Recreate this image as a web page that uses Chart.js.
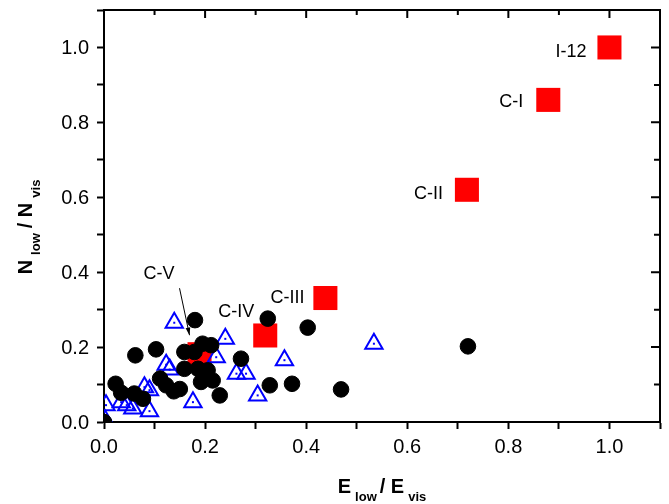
<!DOCTYPE html>
<html>
<head>
<meta charset="utf-8">
<script src="https://cdn.jsdelivr.net/npm/chart.js@4.4.0/dist/chart.umd.min.js"></script>
<style>
    html, body { margin: 0; padding: 0; background: #fff; }
</style>
</head>
<body>
<canvas id="chart" width="669" height="504"></canvas>
<script>
// data (x = E_low / E_vis, y = N_low / N_vis)
const circlePoints = [
    [0.000, 0.000], [0.023, 0.102], [0.034, 0.078], [0.060, 0.076], [0.062, 0.178],
    [0.077, 0.062], [0.103, 0.194], [0.111, 0.116], [0.123, 0.098], [0.138, 0.082],
    [0.150, 0.088], [0.159, 0.187], [0.159, 0.142], [0.180, 0.272], [0.179, 0.187],
    [0.186, 0.142], [0.192, 0.107], [0.195, 0.209], [0.205, 0.138], [0.212, 0.205],
    [0.215, 0.111], [0.229, 0.071], [0.271, 0.169], [0.324, 0.276], [0.328, 0.098],
    [0.372, 0.102], [0.403, 0.252], [0.469, 0.087], [0.720, 0.202]
];
const trianglePoints = [
    [0.002, 0.005], [0.004, 0.045], [0.034, 0.053], [0.045, 0.045], [0.057, 0.036],
    [0.080, 0.093], [0.090, 0.085], [0.090, 0.029], [0.123, 0.153], [0.130, 0.140],
    [0.139, 0.265], [0.176, 0.053], [0.222, 0.173], [0.240, 0.222], [0.262, 0.129],
    [0.281, 0.129], [0.304, 0.071], [0.357, 0.165], [0.534, 0.209]
];
const squarePoints = [
    [1.000, 1.000], [0.879, 0.860], [0.718, 0.620], [0.438, 0.331], [0.319, 0.231], [0.189, 0.181]
];
const squareLabels = ['I-12', 'C-I', 'C-II', 'C-III', 'C-IV', 'C-V'];
const tickLabels = ['0.0', '0.2', '0.4', '0.6', '0.8', '1.0'];

const toXY = arr => arr.map(p => ({ x: p[0], y: p[1] }));

// label placement next to each square (px): right edge dx, baseline dy
const labelOffsets = [[-23, 10], [-25, 7], [-24, 9], [-21, 5], [-11, -18], [-25, -75]];
const FONT = 'Arial, "Liberation Sans", Helvetica, sans-serif';

function majorLabel(v) {
    const i = Math.round(v * 10);
    if (i % 2 !== 0 || i / 2 >= tickLabels.length) return '';
    return tickLabels[i / 2];
}

// draws "Main sub Main sub" pieces along the current x direction, centred at 0
function drawSubTitle(ctx, parts) {
    const big = 'bold 20px ' + FONT, small = 'bold 13px ' + FONT;
    let total = 0;
    parts.forEach(p => {
        ctx.font = p.sub ? small : big;
        total += ctx.measureText(p.t).width + p.gap;
    });
    let x = -total / 2;
    parts.forEach(p => {
        ctx.font = p.sub ? small : big;
        ctx.fillText(p.t, x, p.sub ? 8 : 0);
        x += ctx.measureText(p.t).width + p.gap;
    });
}

const extras = {
    id: 'extras',
    afterDatasetDraw(chart, args) {
        if (args.index !== 1) return;
        // centre dot of the open triangles
        const ctx = chart.ctx;
        ctx.save();
        ctx.fillStyle = '#0000ff';
        args.meta.data.forEach(el => ctx.fillRect(el.x - 1, el.y - 1, 2, 2));
        ctx.restore();
    },
    afterDraw(chart) {
        const { ctx, chartArea: a, scales: { x, y } } = chart;
        ctx.save();
        // top and right frame with inward ticks
        ctx.strokeStyle = '#000';
        ctx.lineWidth = 2;
        ctx.beginPath();
        ctx.moveTo(a.left, a.top);
        ctx.lineTo(a.right, a.top);
        ctx.lineTo(a.right, a.bottom);
        x.ticks.forEach(t => {
            const px = x.getPixelForValue(t.value);
            ctx.moveTo(px, a.top);
            ctx.lineTo(px, a.top + (majorLabel(t.value) ? 8 : 5));
        });
        y.ticks.forEach(t => {
            const py = y.getPixelForValue(t.value);
            ctx.moveTo(a.right, py);
            ctx.lineTo(a.right - (majorLabel(t.value) ? 9 : 6), py);
        });
        ctx.stroke();

        // tick labels
        ctx.fillStyle = '#000';
        ctx.font = '20px ' + FONT;
        ctx.textAlign = 'center';
        ctx.textBaseline = 'top';
        x.ticks.forEach(t => {
            const s = majorLabel(t.value);
            if (s) ctx.fillText(s, x.getPixelForValue(t.value), a.bottom + 15);
        });
        ctx.textAlign = 'right';
        ctx.textBaseline = 'middle';
        y.ticks.forEach(t => {
            const s = majorLabel(t.value);
            if (s) ctx.fillText(s, a.left - 15, y.getPixelForValue(t.value) + 1);
        });

        // square labels
        ctx.font = '18px ' + FONT;
        ctx.textAlign = 'right';
        ctx.textBaseline = 'alphabetic';
        const meta = chart.getDatasetMeta(2);
        meta.data.forEach((el, i) => {
            const o = labelOffsets[i];
            ctx.fillText(squareLabels[i], el.x + o[0], el.y + o[1]);
        });
        // arrow to C-V
        const cv = meta.data[5];
        const x0 = cv.x - 20, y0 = cv.y - 66, x1 = cv.x - 10, y1 = cv.y - 19;
        ctx.lineWidth = 1;
        ctx.beginPath();
        ctx.moveTo(x0, y0);
        ctx.lineTo(x1, y1);
        ctx.stroke();
        const ang = Math.atan2(y1 - y0, x1 - x0);
        ctx.beginPath();
        ctx.moveTo(x1, y1);
        ctx.lineTo(x1 - 8 * Math.cos(ang - 0.3), y1 - 8 * Math.sin(ang - 0.3));
        ctx.lineTo(x1 - 8 * Math.cos(ang + 0.3), y1 - 8 * Math.sin(ang + 0.3));
        ctx.closePath();
        ctx.fill();

        // axis titles with subscripts
        ctx.textAlign = 'left';
        ctx.save();
        ctx.translate((a.left + a.right) / 2, 493);
        drawSubTitle(ctx, [
            { t: 'E', gap: 4 }, { t: 'low', sub: true, gap: 3 },
            { t: '/ E', gap: 4 }, { t: 'vis', sub: true, gap: 0 }
        ]);
        ctx.restore();
        ctx.save();
        ctx.translate(32, 227);
        ctx.rotate(-Math.PI / 2);
        drawSubTitle(ctx, [
            { t: 'N', gap: 5 }, { t: 'low', sub: true, gap: 5 },
            { t: '/ N', gap: 5 }, { t: 'vis', sub: true, gap: 0 }
        ]);
        ctx.restore();
        ctx.restore();
    }
};

const axisCommon = {
    type: 'linear',
    min: 0,
    max: 1.1,
    border: { display: true, color: '#000', width: 2 },
    grid: {
        display: true,
        drawOnChartArea: false,
        drawTicks: true,
        tickLength: 7,
        tickColor: '#000',
        tickWidth: 2
    },
    ticks: {
        display: false,
        stepSize: 0.1,
        autoSkip: false
    }
};

new Chart(document.getElementById('chart'), {
    type: 'scatter',
    data: {
        datasets: [
            {
                label: 'circles',
                data: toXY(circlePoints),
                pointStyle: 'circle',
                pointRadius: 7.8,
                pointBackgroundColor: '#000',
                pointBorderColor: '#000',
                pointBorderWidth: 1,
                order: 0
            },
            {
                label: 'triangles',
                data: toXY(trianglePoints),
                pointStyle: 'triangle',
                pointRadius: 10,
                pointBackgroundColor: 'rgba(255,255,255,0)',
                pointBorderColor: '#0000ff',
                pointBorderWidth: 2,
                order: 1
            },
            {
                label: 'squares',
                data: toXY(squarePoints),
                pointStyle: 'rect',
                pointRadius: 17,
                pointBackgroundColor: '#ff0000',
                pointBorderColor: '#ff0000',
                pointBorderWidth: 0,
                order: 2
            }
        ]
    },
    options: {
        responsive: false,
        animation: false,
        devicePixelRatio: 1,
        layout: { autoPadding: false, padding: { left: 0, right: 9, top: 10, bottom: 0 } },
        plugins: { legend: { display: false }, tooltip: { enabled: false } },
        scales: {
            x: Object.assign({}, axisCommon, {
                position: 'bottom',
                afterFit: s => { s.height = 82; }
            }),
            y: Object.assign({}, axisCommon, {
                position: 'left',
                afterFit: s => { s.width = 104; }
            })
        }
    },
    plugins: [extras]
});
</script>
</body>
</html>
